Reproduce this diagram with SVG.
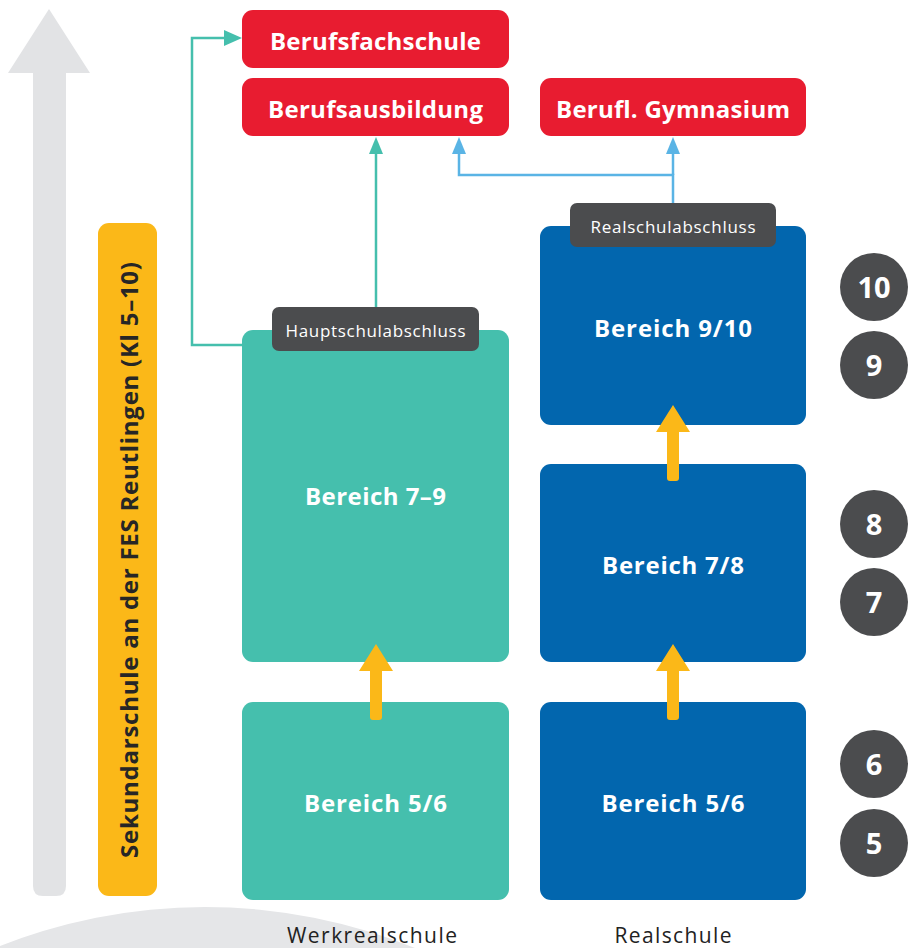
<svg xmlns="http://www.w3.org/2000/svg" width="910" height="948" viewBox="0 0 910 948">
<defs>
<style>
.red{fill:#e81c30}
.teal{fill:#45bfad}
.blue{fill:#0266ae}
.dark{fill:#4b4c4e}
.yel{fill:#fbb818}
.t-big{font-family:"Open Sans","Noto Sans","Liberation Sans",sans-serif;font-weight:bold;font-size:24px;fill:#ffffff;text-anchor:middle}
.t-lab{font-family:"Open Sans","Noto Sans","Liberation Sans",sans-serif;font-size:17px;fill:#ffffff;text-anchor:middle}
.t-num{font-family:"Open Sans","Noto Sans","Liberation Sans",sans-serif;font-weight:bold;font-size:29px;fill:#ffffff;text-anchor:middle}
.t-foot{font-family:"Open Sans","Noto Sans","Liberation Sans",sans-serif;font-size:21px;fill:#222222;text-anchor:middle}
.cteal{fill:none;stroke:#45bfad;stroke-width:2.5}
.cblue{fill:none;stroke:#5ab4e5;stroke-width:2.5}
</style>
</defs>

<!-- background decorations -->
<g id="bg">
<circle cx="205" cy="1465" r="558" fill="#e5e6e8"/>
<path d="M49,9 L90,73 L66,73 L66,886 Q66,896 56,896 L43,896 Q33,896 33,886 L33,73 L8,73 Z" fill="#e2e3e5"/>
</g>

<g id="side-label">
<rect x="98" y="223" width="59" height="673" rx="11" class="yel"/>
<text transform="translate(138,560) rotate(-90)" font-family="'Open Sans','Noto Sans','Liberation Sans',sans-serif" font-weight="bold" font-size="24" fill="#262626" text-anchor="middle" textLength="596">Sekundarschule an der FES Reutlingen (Kl 5–10)</text>
</g>

<!-- connectors -->
<g id="connectors">
<polyline class="cteal" points="242,345 192,345 192,38 226,38"/>
<path d="M242,38 L224,30 L224,46 Z" fill="#45bfad"/>
<line class="cteal" x1="376" y1="307" x2="376" y2="152"/>
<path d="M376,137 L369,154 L383,154 Z" fill="#45bfad"/>
<polyline class="cblue" points="673,203 673,175 459,175 459,152"/>
<line class="cblue" x1="673" y1="175" x2="673" y2="152"/>
<path d="M459,137 L452,154 L466,154 Z" fill="#5ab4e5"/>
<path d="M673,137 L666,154 L680,154 Z" fill="#5ab4e5"/>
</g>

<!-- targets -->
<g id="berufsfachschule">
<rect x="242" y="10" width="267" height="58" rx="11" class="red"/>
<text x="375.5" y="50" class="t-big" textLength="211">Berufsfachschule</text>
</g>
<g id="berufsausbildung">
<rect x="242" y="78" width="267" height="58" rx="11" class="red"/>
<text x="375.5" y="118" class="t-big" textLength="215">Berufsausbildung</text>
</g>
<g id="gymnasium">
<rect x="540" y="78" width="266" height="58" rx="11" class="red"/>
<text x="673" y="118" class="t-big" textLength="234">Berufl. Gymnasium</text>
</g>

<!-- Werkrealschule column -->
<g id="wrs-79">
<rect x="242" y="330" width="267" height="332" rx="11" class="teal"/>
<text x="375.5" y="505" class="t-big" textLength="141">Bereich 7–9</text>
</g>
<g id="hauptschulabschluss">
<rect x="272" y="307" width="207" height="44" rx="7" class="dark"/>
<text x="375.5" y="337" class="t-lab" textLength="180">Hauptschulabschluss</text>
</g>
<g id="wrs-56">
<rect x="242" y="702" width="267" height="198" rx="11" class="teal"/>
<text x="375.5" y="812" class="t-big" textLength="143">Bereich 5/6</text>
</g>

<!-- Realschule column -->
<g id="rs-910">
<rect x="540" y="226" width="266" height="199" rx="11" class="blue"/>
<text x="673" y="337" class="t-big" textLength="158">Bereich 9/10</text>
</g>
<g id="realschulabschluss">
<rect x="570" y="203" width="206" height="44" rx="7" class="dark"/>
<text x="673" y="233" class="t-lab" textLength="165">Realschulabschluss</text>
</g>
<g id="rs-78">
<rect x="540" y="464" width="266" height="198" rx="11" class="blue"/>
<text x="673" y="574" class="t-big" textLength="142">Bereich 7/8</text>
</g>
<g id="rs-56">
<rect x="540" y="702" width="266" height="198" rx="11" class="blue"/>
<text x="673" y="812" class="t-big" textLength="143">Bereich 5/6</text>
</g>

<!-- yellow progression arrows -->
<g id="progress-arrows">
<path d="M376,644 L393,671 L382,671 L382,717 Q382,720 379,720 L373,720 Q370,720 370,717 L370,671 L359,671 Z" class="yel"/>
<path d="M673,644 L690,671 L679,671 L679,717 Q679,720 676,720 L670,720 Q667,720 667,717 L667,671 L656,671 Z" class="yel"/>
<path d="M673,405 L690,432 L679,432 L679,478 Q679,481 676,481 L670,481 Q667,481 667,478 L667,432 L656,432 Z" class="yel"/>
</g>

<!-- grade circles -->
<g id="grades">
<circle cx="874" cy="287" r="34" class="dark"/><text x="874" y="298" class="t-num">10</text>
<circle cx="874" cy="365" r="34" class="dark"/><text x="874" y="376" class="t-num">9</text>
<circle cx="874" cy="524" r="34" class="dark"/><text x="874" y="535" class="t-num">8</text>
<circle cx="874" cy="602" r="34" class="dark"/><text x="874" y="613" class="t-num">7</text>
<circle cx="874" cy="764" r="34" class="dark"/><text x="874" y="775" class="t-num">6</text>
<circle cx="874" cy="843" r="34" class="dark"/><text x="874" y="854" class="t-num">5</text>
</g>

<g id="footer">
<text x="372" y="943" class="t-foot" textLength="170">Werkrealschule</text>
<text x="673" y="943" class="t-foot" textLength="117">Realschule</text>
</g>
</svg>
